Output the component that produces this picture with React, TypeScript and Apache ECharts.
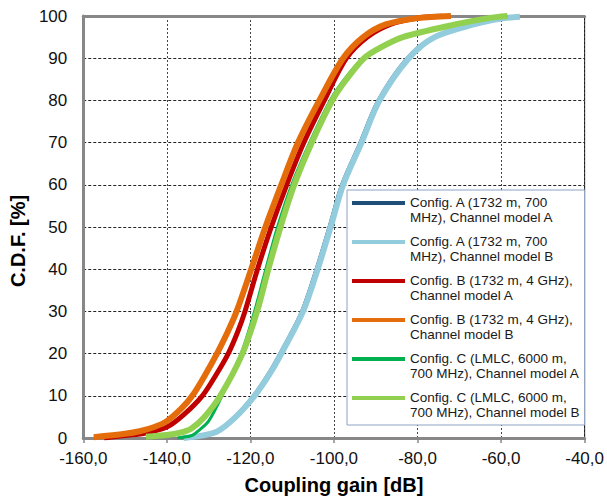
import React, { useEffect, useRef } from "react";
import * as echarts from "echarts";

// ---- data (x: coupling gain dB, y: CDF %) ----
const seriesNames = [
  "Config. A (1732 m, 700\nMHz), Channel model A",
  "Config. A (1732 m, 700\nMHz), Channel model B",
  "Config. B (1732 m, 4 GHz),\nChannel model A",
  "Config. B (1732 m, 4 GHz),\nChannel model B",
  "Config. C (LMLC, 6000 m,\n700 MHz), Channel model A",
  "Config. C (LMLC, 6000 m,\n700 MHz), Channel model B",
];

const configA_chA = [
  [-134.5, 0], [-132.5, 0.5], [-128.6, 1.5], [-124.1, 5], [-119.6, 10], [-116.1, 15],
  [-113.2, 20], [-108.0, 30], [-104.5, 40], [-101.4, 50], [-98.4, 60], [-94.0, 70],
  [-89.7, 80], [-82.8, 90], [-76.6, 95], [-67.5, 98], [-61.0, 99.5], [-58.0, 100],
];
const configA_chB = [
  [-136.0, 0], [-132.0, 0.5], [-128.0, 1.5], [-123.5, 5], [-119.0, 10], [-115.5, 15],
  [-112.6, 20], [-107.4, 30], [-103.9, 40], [-100.8, 50], [-97.8, 60], [-93.4, 70],
  [-89.1, 80], [-82.1, 90], [-75.9, 95], [-66.6, 98], [-60.0, 99.4], [-55.5, 99.8],
];
const configB_chA = [
  [-155.0, 0], [-150.0, 0.6], [-145.0, 1.2], [-140.0, 2.6], [-136.0, 5.5], [-131.5, 10],
  [-128.2, 15], [-125.3, 20], [-123.1, 25], [-121.3, 30], [-118.3, 40], [-115.0, 50],
  [-111.3, 60], [-107.2, 70], [-102.3, 80], [-97.0, 90], [-92.0, 95], [-86.5, 98],
  [-80.0, 99.5], [-74.0, 100],
];
const configB_chB = [
  [-157.5, 0.2], [-150.0, 1.0], [-146.5, 1.6], [-143.0, 2.6], [-140.0, 4], [-136.5, 7],
  [-133.9, 10], [-130.8, 15], [-128.0, 20], [-125.5, 25], [-123.3, 30], [-119.8, 40],
  [-116.4, 50], [-112.6, 60], [-108.6, 70], [-103.5, 80], [-97.8, 90], [-93.0, 95],
  [-87.6, 98], [-80.0, 99.5], [-72.0, 100],
];
const configC_chA = [
  [-137.5, 0], [-134.0, 0.6], [-132.7, 1.5], [-130.0, 4], [-126.8, 10], [-122.2, 20],
  [-119.0, 30], [-116.3, 40], [-113.5, 50], [-110.1, 60], [-105.8, 70], [-100.9, 80],
  [-97.5, 85], [-93.0, 90], [-89.1, 92.5], [-83.7, 95], [-71.3, 98], [-63.0, 99.5],
  [-58.5, 100],
];
const configC_chB = [
  [-145.0, 0.3], [-140.0, 0.7], [-137.0, 1.2], [-134.2, 2.2], [-131.0, 5], [-127.2, 10],
  [-121.9, 20], [-118.4, 30], [-115.7, 40], [-112.8, 50], [-109.5, 60], [-105.3, 70],
  [-100.4, 80], [-97.0, 85], [-92.8, 90], [-88.9, 92.5], [-83.5, 95], [-71.0, 98],
  [-63.0, 99.5], [-58.5, 100],
];

const seriesData = [configA_chA, configA_chB, configB_chA, configB_chB, configC_chA, configC_chB];
const seriesColors = ["#1F4E79", "#93CDDD", "#C00000", "#E46C0A", "#00B050", "#92D050"];
const seriesWidths = [1.3, 6, 5, 6, 3, 6];

const xTicks = { min: -160, max: -40, interval: 20 };
const yTicks = { min: 0, max: 100, interval: 10 };

const LEGEND_ICON =
  "path://M0,0h0.01v0.01h-0.01z M0,6h53v4h-53z M53,29.99h0.01v0.01h-0.01z";

export default function App() {
  const ref = useRef<HTMLDivElement>(null);
  useEffect(() => {
    if (!ref.current) return;
    const chart = echarts.init(ref.current, undefined, { renderer: "svg" });
    const font = "Liberation Sans, Arial, sans-serif";
    chart.setOption({
      animation: false,
      backgroundColor: "#ffffff",
      textStyle: { fontFamily: font },
      grid: {
        left: 73,
        top: 16,
        right: 20,
        bottom: 64,
        show: true,
        borderColor: "#000000",
        borderWidth: 1,
        backgroundColor: "transparent",
      },
      legend: {
        orient: "vertical",
        left: 347,
        top: 190,
        padding: [5, 5, 5, 5],
        itemGap: 9,
        itemWidth: 53,
        itemHeight: 30,
        backgroundColor: "#ffffff",
        borderColor: "#8EA3C2",
        borderWidth: 1,
        borderRadius: 0,
        itemStyle: { borderWidth: 0 },
        textStyle: { fontFamily: font, fontSize: 13.5, color: "#1a1a1a", lineHeight: 15 },
        data: seriesNames.map((n) => ({ name: n, icon: LEGEND_ICON })),
      },
      xAxis: [
        {
          type: "value",
          min: xTicks.min,
          max: xTicks.max,
          interval: xTicks.interval,
          name: "Coupling gain [dB]",
          nameLocation: "middle",
          nameGap: 37,
          nameTextStyle: { fontFamily: font, fontSize: 20, fontWeight: "bold", color: "#000" },
          axisLine: { show: true, lineStyle: { color: "#878787", width: 3 } },
          axisTick: { show: true, length: 5, lineStyle: { color: "#878787", width: 1.5 } },
          axisLabel: {
            fontFamily: font,
            fontSize: 17,
            color: "#111",
            margin: 12,
            formatter: (v: number) => v.toFixed(1).replace(".", ","),
          },
          splitLine: { show: true, lineStyle: { color: "#444", type: [2, 2], width: 1 } },
        },
        {
          type: "value",
          position: "top",
          min: xTicks.min,
          max: xTicks.max,
          interval: xTicks.interval,
          axisLine: { show: true, lineStyle: { color: "#878787", width: 3 } },
          axisTick: { show: false },
          axisLabel: { show: false },
          splitLine: { show: false },
        },
      ],
      yAxis: {
        type: "value",
        min: yTicks.min,
        max: yTicks.max,
        interval: yTicks.interval,
        name: "C.D.F. [%]",
        nameLocation: "middle",
        nameRotate: 90,
        nameGap: 42,
        nameTextStyle: {
          fontFamily: font,
          fontSize: 20,
          fontWeight: "bold",
          color: "#000",
          padding: [0, 28, 0, 0],
        },
        axisLine: { show: true, lineStyle: { color: "#878787", width: 3 } },
        axisTick: { show: false },
        axisLabel: { fontFamily: font, fontSize: 17, color: "#111", margin: 16 },
        splitLine: { show: true, lineStyle: { color: "#222", type: [3, 2], width: 1 } },
      },
      series: seriesNames.map((name, i) => ({
        name,
        type: "line",
        data: seriesData[i],
        showSymbol: false,
        symbol: "none",
        smooth: 0.3,
        color: seriesColors[i],
        itemStyle: { color: seriesColors[i] },
        lineStyle: { color: seriesColors[i], width: seriesWidths[i] },
        z: 2 + i,
      })),
    });
    return () => chart.dispose();
  }, []);
  return (
    <div
      ref={ref}
      style={{ position: "fixed", left: 0, top: 0, width: 607, height: 502 }}
    />
  );
}
